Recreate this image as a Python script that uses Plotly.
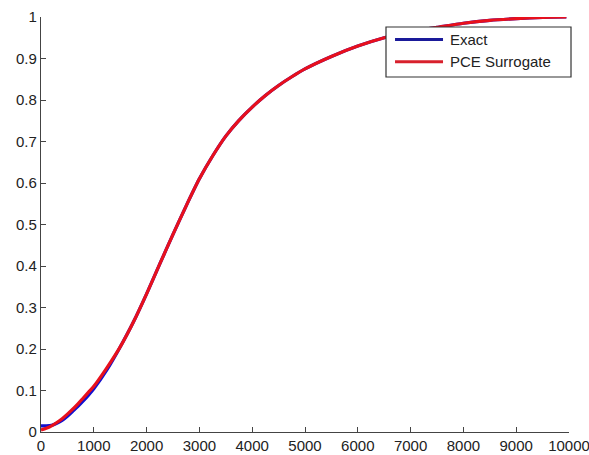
import plotly.graph_objects as go

# Data
x_vals = [0, 100, 200, 300, 400, 500, 600, 700, 800, 900, 1000, 1250, 1500, 1750, 2000,
          2250, 2500, 2750, 3000, 3250, 3500, 3750, 4000, 4250, 4500, 4750, 5000,
          5500, 6000, 6500, 7000, 7500, 8000, 8500, 9000, 9500, 9950]
exact_vals = [0.015, 0.015, 0.016, 0.021, 0.028, 0.038, 0.05, 0.062, 0.075, 0.089, 0.104,
              0.150, 0.205, 0.265, 0.333, 0.405, 0.476, 0.545, 0.610, 0.665, 0.713, 0.751,
              0.783, 0.811, 0.835, 0.856, 0.875, 0.905, 0.930, 0.950, 0.965, 0.975,
              0.985, 0.992, 0.996, 0.999, 1.0]
pce_vals = [0.005, 0.009, 0.015, 0.023, 0.032, 0.043, 0.055, 0.068, 0.082, 0.096, 0.110,
            0.155, 0.205, 0.265, 0.333, 0.405, 0.476, 0.545, 0.610, 0.665, 0.713, 0.751,
            0.783, 0.811, 0.835, 0.856, 0.875, 0.905, 0.930, 0.950, 0.965, 0.975,
            0.985, 0.992, 0.996, 0.999, 1.0]
series_names = ["Exact", "PCE Surrogate"]
x_ticks = [0, 1000, 2000, 3000, 4000, 5000, 6000, 7000, 8000, 9000, 10000]
y_ticks = [0, 0.1, 0.2, 0.3, 0.4, 0.5, 0.6, 0.7, 0.8, 0.9, 1]

font_family = "Liberation Sans, Arial, sans-serif"
blue = "#1010d0"
red = "#e8101c"

fig = go.Figure()
fig.add_trace(go.Scatter(x=x_vals, y=exact_vals, mode="lines", name=series_names[0],
                         line=dict(color=blue, width=3.2, shape="spline", smoothing=0.6),
                         showlegend=False))
fig.add_trace(go.Scatter(x=x_vals, y=pce_vals, mode="lines", name=series_names[1],
                         line=dict(color=red, width=3.2, shape="spline", smoothing=0.6),
                         showlegend=False))

axis_common = dict(showgrid=False, zeroline=False, showline=True, linecolor="#444444",
                   linewidth=1.3, ticks="inside", ticklen=5, tickcolor="#444444",
                   tickfont=dict(family=font_family, size=15, color="#222222"),
                   mirror=False, automargin=False, ticklabeloverflow="allow")

fig.update_xaxes(range=[0, 10000], tickvals=x_ticks,
                 ticktext=[str(v) for v in x_ticks], **axis_common)
fig.update_yaxes(range=[0, 1], tickvals=y_ticks,
                 ticktext=[("%g" % v) for v in y_ticks], **axis_common)

# Manual legend box (coordinates relative to the plot area)
shapes = [
    dict(type="rect", xref="paper", yref="paper", x0=0.6534, x1=1.0038, y0=0.8554, y1=0.9759,
         line=dict(color="#333333", width=1.2), fillcolor="white", layer="above"),
    dict(type="line", xref="paper", yref="paper", x0=0.6705, x1=0.7614, y0=0.946, y1=0.946,
         line=dict(color="#1a1a9a", width=3), layer="above"),
    dict(type="line", xref="paper", yref="paper", x0=0.6705, x1=0.7614, y0=0.892, y1=0.892,
         line=dict(color="#d8202c", width=3), layer="above"),
]
annotations = [
    dict(xref="paper", yref="paper", x=0.7708, y=0.946, text=series_names[0], showarrow=False,
         xanchor="left", yanchor="middle", font=dict(family=font_family, size=15, color="#222222")),
    dict(xref="paper", yref="paper", x=0.7708, y=0.892, text=series_names[1], showarrow=False,
         xanchor="left", yanchor="middle", font=dict(family=font_family, size=15, color="#222222")),
]

fig.update_layout(
    width=589, height=455,
    margin=dict(l=41, r=20, t=17, b=23, autoexpand=False),
    paper_bgcolor="white", plot_bgcolor="white",
    font=dict(family=font_family, size=15, color="#222222"),
    showlegend=False,
    shapes=shapes,
    annotations=annotations,
)

fig.write_html("out.html")
